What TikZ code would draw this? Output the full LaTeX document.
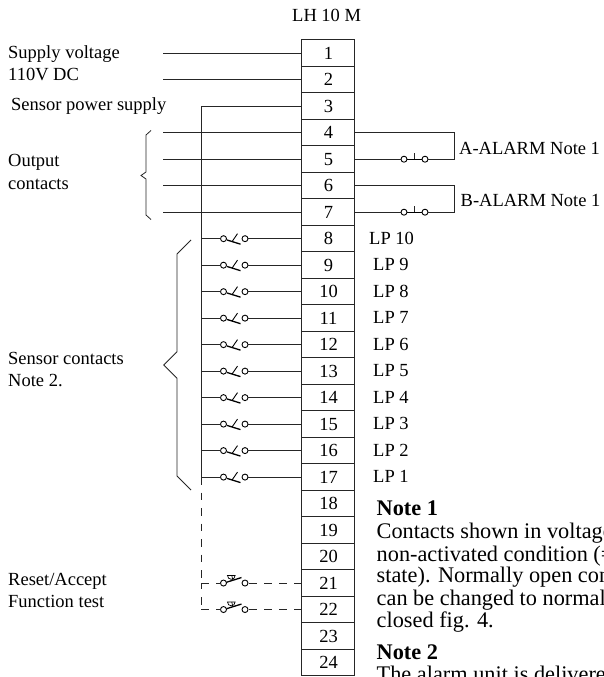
\documentclass[tikz,border=0pt]{standalone}
\usepackage{fontspec}
\setmainfont{Liberation Serif}
\tikzset{
  lbl/.style={anchor=base west,inner sep=0pt,font=\fontsize{18.5}{22}\selectfont},
  notetxt/.style={anchor=base west,inner sep=0pt,font=\fontsize{22.3}{24}\selectfont},
  num/.style={anchor=base,inner sep=0pt,font=\fontsize{18.5}{22}\selectfont},
  wire/.style={line width=0.9pt,draw=black!85},
  brc/.style={line width=0.8pt,draw=black!85},
  term/.style={draw=black!85,line width=1pt,minimum width=53pt,minimum height=26.49pt,inner sep=0pt,outer sep=0pt},
  pin/.style={circle,draw=black,line width=0.9pt,fill=white,minimum size=6pt,inner sep=0pt,outer sep=0pt},
  dsh/.style={line width=0.9pt,draw=black!85,dash pattern=on 8pt off 7pt}
}
\begin{document}
\begin{tikzpicture}[x=1pt,y=-1pt]
\useasboundingbox (0,0) rectangle (604,677);
\clip (0,0) rectangle (604,677);
% terminals
\foreach \n in {1,...,24}{
  \pgfmathsetmacro{\yc}{40+(\n-0.5)*26.49}
  \node[term] (t\n) at (328,\yc) {};
  \node[num] at (328.5,\yc+6) {\n};
}
\node[lbl] (title) at (292,21.7) {LH 10 M};
% left labels
\node[lbl] (l1) at (8,59) {Supply voltage};
\node[lbl] (l2) at (8,81) {110V DC};
\node[lbl] (l3) at (11,110) {Sensor power supply};
\node[lbl] (l4) at (8,166.7) {Output};
\node[lbl] (l5) at (8,189) {contacts};
\node[lbl] (l6) at (8,364) {Sensor contacts};
\node[lbl] (l7) at (8,386) {Note 2.};
\node[lbl] (l8) at (8,585) {Reset/Accept};
\node[lbl] (l9) at (8,607.7) {Function test};
% supply and output wires
\foreach \n in {1,2,4,5,6,7}{
  \coordinate (f\n) at (163,{40+(\n-0.5)*26.49});
  \draw[wire] (f\n) -- (t\n.west);
}
% bus
\coordinate (busTop) at (201,{40+2.5*26.49});
\coordinate (busEnd) at (201,{40+16.5*26.49});
\draw[wire] (t3.west) -- (busTop) -- (busEnd);
% sensor switches
\foreach \n in {8,...,17}{
  \pgfmathsetmacro{\yc}{40+(\n-0.5)*26.49}
  \coordinate (b\n) at (201,\yc);
  \node[pin] (pa\n) at (223.5,\yc) {};
  \node[pin] (pb\n) at (245,\yc) {};
  \draw[wire] (b\n) -- (pa\n);
  \draw[wire] (pb\n) -- (t\n.west);
  \draw[line width=1.3pt] (227,\yc+1.3) -- (240.5,\yc+5.5);
  \draw[line width=0.9pt] (232,\yc+3) -- (237.5,\yc-5);
}
% alarm loops
\foreach \a/\b/\nm in {4/5/A,6/7/B}{
  \coordinate (r\a) at (454.8,{40+(\a-0.5)*26.49});
  \coordinate (r\b) at (454.8,{40+(\b-0.5)*26.49});
  \node[pin] (q\b) at (404,{40+(\b-0.5)*26.49}) {};
  \node[pin] (s\b) at (425,{40+(\b-0.5)*26.49}) {};
  \coordinate (m\b) at (414.5,{40+(\b-0.5)*26.49});
  \draw[wire] (t\a.east) -- (r\a) -- (r\b) -- (s\b);
  \draw[wire] (t\b.east) -- (q\b);
  \draw[line width=1.3pt] (q\b) -- (s\b);
  \draw[wire] (m\b) -- ++(0,-6.5);
}
\node[lbl] (aa) at (459,154) {A-ALARM Note 1};
\node[lbl] (ab) at (460.5,206) {B-ALARM Note 1};
% LP labels
\node[lbl] (lp10) at (369,244.5) {LP 10};
\foreach \n [evaluate=\n as \r using int(18-\n)] in {9,...,17}{
  \node[lbl] (lp\r) at (373,{40+(\n-0.5)*26.49+5.8}) {LP \r};
}
% braces
\draw[brc] (151,130.5) -- (146,135) -- (146,172) -- (141,175.5) -- (146,179) -- (146,215) -- (151,219.5);
\draw[brc] (191,240) -- (177,254) -- (177,351.7) -- (163.7,365) -- (177,378.3) -- (177,476) -- (191,490);
% dashed part
\foreach \n in {21,22}{
  \pgfmathsetmacro{\yc}{40+(\n-0.5)*26.49}
  \coordinate (d\n) at (201,\yc);
  \node[pin] (da\n) at (223.5,\yc) {};
  \node[pin] (db\n) at (245,\yc) {};
  \draw[dsh] (d\n) -- (da\n);
  \draw[dsh] (t\n.west) -- (db\n);
  \draw[line width=1.3pt] (226.5,\yc-0.8) -- (241.5,\yc-5.5);
  \draw[line width=0.7pt] (232.8,\yc-3) -- (231.8,\yc-7.5);
  \draw[line width=0.7pt] (227.5,\yc-7.5) arc[start angle=180,end angle=0,radius=3.8] -- cycle;
}
\draw[line width=0.9pt,draw=black!85,dash pattern=on 7.5pt off 8pt] (busEnd) -- (d21);
\draw[line width=0.9pt,draw=black!85,dash pattern=on 6pt off 8pt on 8pt off 10pt] (d21) -- (d22);
% notes
\node[notetxt] (n1) at (376.5,515.7) {\textbf{Note 1}};
\foreach \t/\y in {Contacts shown in voltage/538.3,non-activated condition (=/561,state). Normally open con/582.7,can be changed to normal/605,closed fig. 4./627.7}{
  \node[notetxt] at (376.5,\y) {\t};
}
\node[notetxt] (n2) at (376.5,659.3) {\textbf{Note 2}};
\node[notetxt] (n3) at (376.5,681.7) {The alarm unit is delivered};
\end{tikzpicture}
\end{document}
